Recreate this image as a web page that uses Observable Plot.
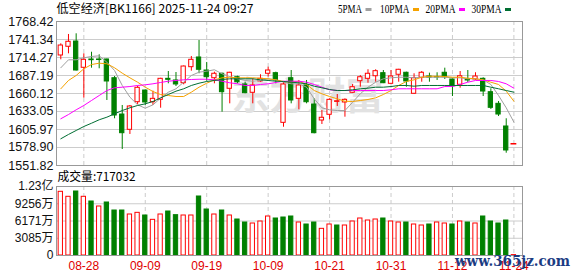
<!DOCTYPE html>
<html><head><meta charset="utf-8">
<script src="https://cdn.jsdelivr.net/npm/d3@7"></script>
<script src="https://cdn.jsdelivr.net/npm/@observablehq/plot@0.6"></script>
<style>
html,body{margin:0;padding:0;background:#fff;}
#wrap{position:relative;width:578px;height:276px;overflow:hidden;background:#fff;}
#price,#vol,#overlay{position:absolute;left:0;}
#price{top:0}
#vol{top:170px}
#overlay{top:0;pointer-events:none}
svg{overflow:visible}
</style></head><body>
<div id="wrap"><div id="price"></div><div id="vol"></div><svg id="overlay" width="578" height="276"></svg></div>
<script>
const title = "低空经济[BK1166] 2025-11-24 09:27";
const volumeTitle = "成交量:717032";
const watermark = "东方财富";
const siteMark = "www.365jz.com";
const maNames = ["5PMA","10PMA","20PMA","30PMA"];
const maColors = ["#a0a0a0","#f5a200","#ff00ff","#006e32"];

const dates = ["08-25","08-26","08-27","08-28","08-29","09-01","09-02","09-03","09-04","09-05","09-08","09-09","09-10","09-11","09-12","09-15","09-16","09-17","09-18","09-19","09-22","09-23","09-24","09-25","09-26","09-29","09-30","10-09","10-10","10-13","10-14","10-15","10-16","10-17","10-20","10-21","10-22","10-23","10-24","10-27","10-28","10-29","10-30","10-31","11-03","11-04","11-05","11-06","11-07","11-10","11-11","11-12","11-13","11-14","11-17","11-18","11-19","11-20","11-21","11-24"];
const tickDates = ["08-28","09-09","09-19","10-09","10-21","10-31","11-12","11-24"];

const open  = [1717.3,1730.4,1738.3,1698.8,1711.3,1711.3,1711.3,1683.1,1628.5,1605.5,1647.0,1664.6,1647.0,1650.6,1682.2,1679.7,1675.6,1699.7,1714.3,1694.7,1683.1,1689.8,1667.2,1684.6,1673.7,1661.2,1678.2,1689.8,1690.7,1616.0,1683.1,1652.1,1672.2,1643.6,1619.5,1628.1,1647.5,1646.6,1661.2,1678.6,1682.2,1686.1,1690.7,1674.7,1688.3,1691.3,1659.7,1683.7,1685.7,1684.8,1691.3,1681.2,1673.2,1681.2,1681.2,1682.2,1662.1,1644.6,1610.5,1584.5];
const high  = [1734.9,1748.9,1749.9,1719.8,1722.2,1718.3,1711.8,1685.7,1642.1,1642.1,1671.1,1665.5,1663.6,1683.0,1693.2,1691.7,1701.5,1715.8,1739.8,1706.8,1692.2,1690.7,1692.0,1686.1,1677.1,1682.2,1688.3,1699.7,1692.2,1678.2,1694.7,1679.7,1679.7,1652.1,1634.5,1652.1,1658.6,1652.1,1673.7,1687.2,1695.8,1695.8,1694.7,1694.7,1696.5,1692.2,1689.8,1693.2,1690.7,1691.3,1698.2,1682.0,1693.2,1694.7,1691.3,1683.7,1667.2,1648.1,1622.1,1584.5];
const low   = [1710.8,1719.8,1694.0,1653.1,1698.2,1697.3,1649.6,1622.1,1575.9,1598.5,1643.6,1642.1,1642.1,1638.0,1674.7,1670.6,1673.2,1693.7,1689.8,1678.6,1674.7,1632.0,1644.6,1674.7,1659.7,1644.6,1677.1,1684.6,1674.7,1609.4,1644.6,1635.6,1644.6,1599.5,1613.5,1620.6,1640.6,1624.5,1660.6,1669.6,1675.6,1677.1,1675.0,1674.0,1677.1,1669.6,1659.0,1677.1,1677.1,1679.7,1681.2,1655.6,1668.1,1676.7,1679.7,1655.6,1636.1,1625.5,1570.3,1584.5];
const close = [1732.3,1737.9,1694.7,1710.8,1710.2,1710.5,1678.2,1627.0,1600.4,1640.6,1668.7,1646.6,1652.1,1682.2,1680.7,1673.7,1700.7,1710.8,1695.8,1684.6,1689.8,1662.1,1691.3,1677.1,1660.6,1672.2,1682.2,1694.7,1679.7,1673.7,1649.6,1672.2,1647.0,1600.4,1623.6,1650.6,1648.5,1650.6,1669.6,1684.6,1689.8,1693.7,1675.6,1685.7,1695.8,1678.2,1683.1,1691.3,1684.0,1684.3,1684.6,1671.1,1686.1,1679.7,1685.7,1663.1,1638.6,1628.5,1574.4,1584.5];
// volume in 万
const volume = [11394,10500,11448,10500,9659,8765,9480,8049,8049,7334,7632,7155,6380,7334,7870,7214,7155,7155,10554,8228,7334,8049,7155,6439,5903,5724,6081,6976,6618,6797,6976,5903,5545,5903,4770,5545,5366,5366,6081,6618,6260,6439,6618,6081,5903,5903,5545,5366,5545,5903,5724,5545,6081,5903,5724,6976,6081,5724,6260,71.7];

const ma5  = [1698.8,1710.8,1710.8,1713.8,1715.8,1716.8,1707.2,1694.7,1672.2,1654.6,1643.1,1638.0,1643.1,1653.1,1662.1,1667.2,1677.1,1687.2,1692.2,1693.7,1695.8,1689.8,1685.7,1682.2,1679.7,1678.6,1679.7,1682.2,1680.7,1677.1,1674.7,1674.7,1669.6,1652.1,1638.6,1635.6,1634.5,1634.5,1647.0,1659.7,1669.6,1677.1,1682.2,1683.7,1684.6,1684.6,1683.7,1684.6,1684.6,1684.6,1684.6,1683.7,1683.7,1682.2,1682.2,1680.7,1673.7,1657.1,1638.6,1617.0];
const ma10 = [1667.2,1679.7,1687.2,1697.3,1703.7,1705.7,1704.8,1698.8,1690.7,1683.7,1677.1,1669.6,1663.1,1658.6,1657.1,1655.6,1655.6,1662.1,1669.6,1675.6,1680.7,1683.7,1684.6,1683.7,1683.7,1683.7,1683.1,1682.2,1680.7,1678.2,1677.1,1678.6,1673.7,1664.6,1659.7,1655.6,1652.1,1648.5,1648.1,1649.6,1651.1,1653.6,1658.6,1664.6,1672.2,1678.2,1680.7,1684.6,1686.1,1686.1,1685.7,1684.6,1684.6,1683.1,1682.2,1680.7,1677.1,1673.7,1663.6,1648.5];
const ma20 = [1622.1,1628.5,1635.6,1642.1,1649.6,1657.1,1664.6,1668.7,1669.6,1670.6,1672.2,1673.2,1674.7,1676.7,1678.6,1679.7,1680.7,1681.2,1681.6,1681.6,1680.7,1678.6,1676.2,1674.7,1672.2,1672.2,1673.7,1674.7,1676.7,1678.6,1678.6,1678.6,1677.1,1673.7,1669.6,1665.7,1664.6,1664.6,1664.6,1664.6,1664.6,1664.6,1664.6,1665.7,1667.2,1667.2,1667.2,1667.2,1667.2,1667.2,1670.6,1670.6,1673.7,1677.1,1679.7,1679.7,1679.7,1678.2,1674.7,1668.1];
const ma30 = [1592.0,1598.5,1604.5,1610.5,1615.4,1620.6,1624.5,1629.6,1634.5,1638.6,1642.1,1644.6,1648.1,1653.6,1658.6,1663.6,1667.2,1672.2,1675.6,1678.2,1679.7,1681.2,1682.2,1682.2,1682.2,1682.2,1680.7,1679.7,1678.6,1678.2,1677.1,1676.2,1674.7,1671.1,1668.7,1666.1,1664.6,1664.6,1665.7,1667.2,1668.1,1669.6,1669.6,1670.6,1672.2,1672.2,1671.1,1672.2,1672.2,1672.2,1672.2,1672.2,1672.2,1672.2,1672.2,1672.2,1669.6,1667.2,1664.6,1662.1];

const priceTicks = [1551.82,1578.90,1605.97,1633.05,1660.12,1687.19,1714.27,1741.34,1768.42];
const volTicks = [0,3085,6171,9256,12342];
const volTickLabels = ["0","3085万","6171万","9256万","1.23亿"];

const UP = "#ff0000", DOWN = "#008000";
const rows = dates.map((d,i)=>({i, date:d, open:open[i], high:high[i], low:low[i], close:close[i], vol:volume[i],
  up: close[i] >= open[i], volUp: i === 0 ? true : close[i] >= close[i-1]}));
const tickIdx = tickDates.map(d => dates.indexOf(d));
const xDomain = [-0.56, 60.12];
const half = 0.28;
const mas = [ma5, ma10, ma20, ma30];

const price = Plot.plot({
  width: 578, height: 176, marginLeft: 56, marginRight: 56, marginTop: 21, marginBottom: 11,
  style: {fontFamily: "'Liberation Sans', 'Noto Sans CJK SC', sans-serif", fontSize: "12.5px", background: "transparent", color: "#111", overflow: "visible"},
  x: {domain: xDomain, axis: null},
  y: {domain: [priceTicks[0], priceTicks[priceTicks.length-1]], axis: null},
  color: {type: "identity"},
  marks: [
    Plot.gridY(priceTicks, {stroke: "#cccccc", strokeOpacity: 1}),
    Plot.gridX(tickIdx, {stroke: "#cccccc", strokeOpacity: 1, strokeDasharray: "4,3"}),
    Plot.text([watermark], {frameAnchor: "middle", dx: 18, dy: 3, fontSize: 38, fontWeight: "bold", fill: "#e2e2e2", fontFamily: "'Noto Sans CJK SC'"}),
    Plot.ruleX(rows, {x: "i", y1: "low", y2: "high", stroke: d => d.up ? UP : DOWN, strokeWidth: 1}),
    Plot.rect(rows, {x1: d => d.i - half, x2: d => d.i + half, y1: "open", y2: "close",
      fill: d => d.up ? "#ffffff" : DOWN, stroke: d => d.up ? UP : DOWN, strokeWidth: 1}),
    Plot.ruleY(rows.filter(d => d.open === d.close), {y: "close", x1: d => d.i - 0.38, x2: d => d.i + 0.38, stroke: UP, strokeWidth: 1.5}),
    ...mas.map((m, k) => Plot.line(m, {x: (d, i) => i, y: d => d, stroke: maColors[k], strokeWidth: 1})),
    Plot.frame({stroke: "#999999"}),
    Plot.axisY(priceTicks, {tickSize: 0, tickPadding: 3, tickFormat: d => d.toFixed(2), label: null, fill: "#111"})
  ]
});
document.getElementById("price").appendChild(price);

const vol = Plot.plot({
  width: 578, height: 106, marginLeft: 56, marginRight: 56, marginTop: 16, marginBottom: 21,
  style: {fontFamily: "'Liberation Sans', 'Noto Sans CJK SC', sans-serif", fontSize: "12px", background: "transparent", color: "#111", overflow: "visible"},
  x: {domain: xDomain, axis: null},
  y: {domain: [0, volTicks[volTicks.length-1]], axis: null},
  color: {type: "identity"},
  marks: [
    Plot.gridY(volTicks, {stroke: "#cccccc", strokeOpacity: 1}),
    Plot.gridX(tickIdx, {stroke: "#cccccc", strokeOpacity: 1, strokeDasharray: "4,3"}),
    Plot.rect(rows, {x1: d => d.i - half, x2: d => d.i + half, y1: 0, y2: "vol",
      fill: d => d.volUp ? "#ffffff" : DOWN, stroke: d => d.volUp ? UP : DOWN, strokeWidth: 1}),
    Plot.frame({stroke: "#999999"}),
    Plot.axisY(volTicks, {tickSize: 0, tickPadding: 3, tickFormat: d => volTickLabels[volTicks.indexOf(d)], label: null, fill: "#111"}),
    Plot.axisX(tickIdx, {tickSize: 0, tickPadding: 6, tickFormat: i => dates[i], label: null, fill: "#e00000"})
  ]
});
document.getElementById("vol").appendChild(vol);

// header texts, legend, site watermark
const svg = d3.select("#overlay");
svg.append("text").attr("x", 56.5).attr("y", 12.5).attr("font-family", "'Noto Sans CJK SC', sans-serif")
  .attr("font-size", 12).attr("fill", "#000").attr("textLength", 197).attr("lengthAdjust", "spacingAndGlyphs").text(title);
const legendX = [338, 380, 425.5, 471.5];
const legendW = [24, 29.5, 30, 30];
maNames.forEach((n, k) => {
  svg.append("text").attr("x", legendX[k]).attr("y", 12.5).attr("font-family", "'Liberation Serif', serif")
    .attr("font-size", 12).attr("fill", "#000").attr("textLength", legendW[k]).attr("lengthAdjust", "spacingAndGlyphs").text(n);
  svg.append("rect").attr("x", legendX[k] + legendW[k] + 3.5).attr("y", 8).attr("width", 6).attr("height", 3).attr("fill", maColors[k]);
});
svg.append("text").attr("x", 57.5).attr("y", 181).attr("font-family", "'Noto Sans CJK SC', sans-serif")
  .attr("font-size", 12).attr("fill", "#000").attr("textLength", 78).attr("lengthAdjust", "spacingAndGlyphs").text(volumeTitle);
svg.append("text").attr("x", 455).attr("y", 266).attr("font-family", "'DejaVu Serif', serif").attr("font-weight", "bold")
  .attr("font-size", 15).attr("fill", "#1b3c83").attr("textLength", 115).attr("lengthAdjust", "spacingAndGlyphs").text(siteMark);
</script>
</body></html>
